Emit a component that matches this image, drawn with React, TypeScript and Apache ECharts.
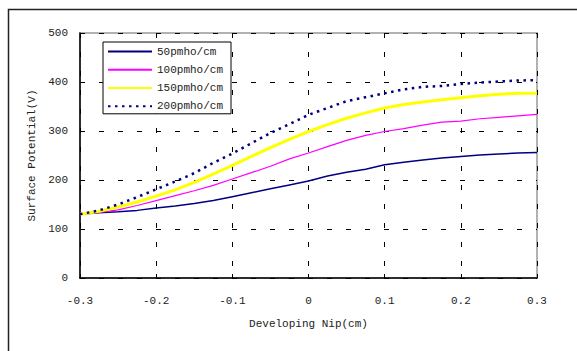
import React, { useEffect, useRef } from "react";
import * as echarts from "echarts";

const xValues = [
  -0.3, -0.275, -0.25, -0.225, -0.2, -0.175, -0.15, -0.125, -0.1, -0.075, -0.05, -0.025, 0,
  0.025, 0.05, 0.075, 0.1, 0.125, 0.15, 0.175, 0.2, 0.225, 0.25, 0.275, 0.3,
];
const s50 = [130, 133, 135, 138, 143, 147, 152, 158, 166, 174, 182, 190, 198, 208, 216, 222, 231, 236, 241, 245, 248, 251, 253, 255, 256];
const s100 = [130, 134, 139, 148, 158, 168, 178, 189, 202, 215, 228, 243, 255, 268, 281, 291, 299, 305, 312, 318, 320, 325, 328, 331, 334];
const s150 = [130, 136, 145, 155, 167, 180, 195, 212, 230, 248, 266, 283, 299, 313, 326, 337, 347, 354, 359, 364, 368, 372, 375, 377, 377];
const s200 = [130, 138, 150, 165, 181, 197, 214, 235, 254, 275, 296, 314, 333, 347, 361, 369, 377, 385, 390, 392, 396, 399, 401, 403, 404];
const seriesNames = ["50pmho/cm", "100pmho/cm", "150pmho/cm", "200pmho/cm"];
const xAxisTitle = "Developing Nip(cm)";
const yAxisTitle = "Surface Potential(V)";

const FONT = "'Liberation Mono', 'DejaVu Sans Mono', monospace";

function pairs(ys: number[]) {
  return xValues.map((x, i) => [x, ys[i]]);
}

export default function App() {
  const ref = useRef<HTMLDivElement>(null);
  useEffect(() => {
    if (!ref.current) return;
    const chart = echarts.init(ref.current, null, { renderer: "svg" });
    const gridLine = { show: true, lineStyle: { color: "#000", type: [5, 14] as any, width: 1 } };
    chart.setOption({
      animation: false,
      backgroundColor: "#fff",
      textStyle: { fontFamily: FONT },
      graphic: [
        {
          type: "rect",
          shape: { x: 8.5, y: 9.5, width: 700, height: 500 },
          style: { fill: "none", stroke: "#222", lineWidth: 1.5 },
          silent: true,
        },
      ],
      grid: {
        left: 80,
        top: 33,
        right: 40,
        bottom: 73,
        show: true,
        borderColor: "#999",
        borderWidth: 1.5,
        backgroundColor: "transparent",
      },
      legend: {
        left: 103,
        top: 42,
        orient: "vertical",
        itemWidth: 44,
        itemHeight: 14,
        itemGap: 7,
        itemStyle: { opacity: 0 },
        padding: [4, 8, 2, 4],
        borderColor: "#000",
        borderWidth: 1,
        backgroundColor: "#fff",
        textStyle: { fontFamily: FONT, fontSize: 11, color: "#222" },
        data: seriesNames,
      },
      xAxis: {
        type: "value",
        min: -0.3,
        max: 0.3,
        interval: 0.1,
        name: xAxisTitle,
        nameLocation: "middle",
        nameGap: 40,
        nameTextStyle: { fontFamily: FONT, fontSize: 11, color: "#222" },
        axisLine: { show: true, onZero: false, lineStyle: { color: "#000", width: 1.5 } },
        axisTick: { show: true, inside: true, length: 4, lineStyle: { color: "#000" } },
        axisLabel: {
          fontFamily: FONT,
          fontSize: 11,
          color: "#222",
          margin: 17,
          formatter: (v: number) => (Math.abs(v) < 1e-9 ? "0" : String(Math.round(v * 10) / 10)),
        },
        splitLine: gridLine,
      },
      yAxis: {
        type: "value",
        min: 0,
        max: 500,
        interval: 100,
        name: yAxisTitle,
        nameLocation: "middle",
        nameGap: 42,
        nameTextStyle: { fontFamily: FONT, fontSize: 11, color: "#222" },
        axisLine: { show: true, onZero: false, lineStyle: { color: "#000", width: 1.5 } },
        axisTick: { show: true, inside: true, length: 4, lineStyle: { color: "#000" } },
        axisLabel: { fontFamily: FONT, fontSize: 11, color: "#222", margin: 12 },
        splitLine: gridLine,
      },
      series: [
        {
          name: seriesNames[0],
          type: "line",
          symbol: "none",
          data: pairs(s50),
          lineStyle: { color: "#000080", width: 1.5 },
          itemStyle: { color: "#000080" },
        },
        {
          name: seriesNames[1],
          type: "line",
          symbol: "none",
          data: pairs(s100),
          lineStyle: { color: "#ff00ff", width: 1.2 },
          itemStyle: { color: "#ff00ff" },
        },
        {
          name: seriesNames[2],
          type: "line",
          symbol: "none",
          data: pairs(s150),
          lineStyle: { color: "#ffff00", width: 3 },
          itemStyle: { color: "#ffff00" },
        },
        {
          name: seriesNames[3],
          type: "line",
          symbol: "none",
          data: pairs(s200),
          lineStyle: { color: "#000080", width: 2.5, type: [2.5, 4.5] as any },
          itemStyle: { color: "#000080" },
        },
      ],
    });
    return () => chart.dispose();
  }, []);
  return (
    <div
      ref={ref}
      style={{ position: "fixed", left: 0, top: 0, width: 577, height: 351, background: "#fff" }}
    />
  );
}
